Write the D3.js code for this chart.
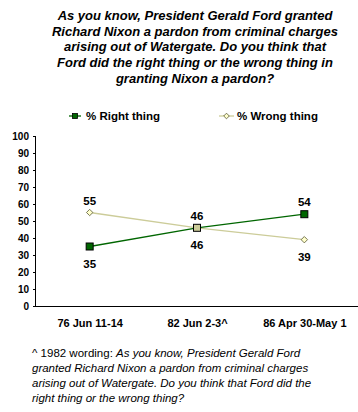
<!DOCTYPE html>
<html><head><meta charset="utf-8">
<script src="https://cdn.jsdelivr.net/npm/d3@7"></script>
<style>
html,body{margin:0;padding:0;background:#fff;}
svg{display:block;font-family:"Liberation Sans",Arial,sans-serif;}
</style></head>
<body>
<svg id="c" width="358" height="412"></svg>
<script>
const categories = ["76 Jun 11-14", "82 Jun 2-3^", "86 Apr 30-May 1"];
const rightThing = [35, 46, 54];
const wrongThing = [55, 46, 39];
const yTicks = [0,10,20,30,40,50,60,70,80,90,100];
const titleLines = [
  "As you know, President Gerald Ford granted",
  "Richard Nixon a pardon from criminal charges",
  "arising out of Watergate. Do you think that",
  "Ford did the right thing or the wrong thing in",
  "granting Nixon a pardon?"
];
const seriesNames = ["% Right thing", "% Wrong thing"];

const svg = d3.select("#c");
const x = d3.scalePoint().domain(categories).range([36, 358]).padding(0.5);
const y = d3.scaleLinear().domain([0, 100]).range([306, 136]);

// title
svg.append("g").selectAll("text").data(titleLines).join("text")
  .attr("x", 195).attr("y", (d,i) => 20 + i*15.7)
  .attr("text-anchor", "middle")
  .attr("font-size", 13).attr("font-weight", "bold").attr("font-style", "italic")
  .attr("fill", "#000").text(d => d);

// legend
const lg = svg.append("g");
lg.append("line").attr("x1", 69).attr("x2", 81).attr("y1", 116).attr("y2", 116).attr("stroke", "#006600").attr("stroke-width", 1.3);
lg.append("rect").attr("x", 72.5).attr("y", 113.5).attr("width", 5).attr("height", 5).attr("fill", "#006600").attr("stroke", "#000").attr("stroke-width", 0.8);
lg.append("text").attr("x", 86).attr("y", 120).attr("font-size", 11.5).attr("font-weight", "bold").text(seriesNames[0]);
lg.append("line").attr("x1", 219).attr("x2", 234).attr("y1", 116).attr("y2", 116).attr("stroke", "#cccc99").attr("stroke-width", 1.3);
lg.append("path").attr("d", d3.symbol(d3.symbolDiamond2, 20)()).attr("transform", "translate(226.5,116)").attr("fill", "#ffffcc").attr("stroke", "#555533").attr("stroke-width", 0.8);
lg.append("text").attr("x", 237).attr("y", 120).attr("font-size", 11.5).attr("font-weight", "bold").text(seriesNames[1]);

// y axis
const yAxis = svg.append("g").attr("transform", "translate(36,0)")
  .call(d3.axisLeft(y).tickValues(yTicks).tickSize(3).tickPadding(4));
yAxis.select(".domain").attr("stroke", "#000").attr("d", "M-0.5,136V306.5");
yAxis.selectAll(".tick line").attr("stroke", "#000");
yAxis.selectAll(".tick text").attr("font-size", 10).attr("font-weight", "bold").attr("fill", "#000")
  .attr("font-family", "'Liberation Sans',Arial,sans-serif");

// x axis
const xAxis = svg.append("g").attr("transform", "translate(0,306)")
  .call(d3.axisBottom(x).tickSize(0).tickPadding(13));
xAxis.select(".domain").attr("stroke", "#000").attr("d", "M35.5,0.5H358");
xAxis.selectAll(".tick text").attr("font-size", 11).attr("font-weight", "bold").attr("fill", "#000")
  .attr("font-family", "'Liberation Sans',Arial,sans-serif");

// lines
const line = d3.line().x((d,i) => x(categories[i])).y(d => y(d));
svg.append("path").datum(wrongThing).attr("d", line).attr("fill", "none").attr("stroke", "#cccc99").attr("stroke-width", 1.3);
svg.append("path").datum(rightThing).attr("d", line).attr("fill", "none").attr("stroke", "#006600").attr("stroke-width", 1.3);

// markers
svg.append("g").selectAll("path").data(wrongThing).join("path")
  .attr("d", d3.symbol(d3.symbolDiamond2, 26)())
  .attr("transform", (d,i) => `translate(${x(categories[i])},${y(d)})`)
  .attr("fill", "#ffffcc").attr("stroke", "#555533").attr("stroke-width", 0.8);
svg.append("g").selectAll("rect").data(rightThing).join("rect")
  .attr("x", (d,i) => x(categories[i]) - 3.5).attr("y", d => y(d) - 3.5)
  .attr("width", 7).attr("height", 7)
  .attr("fill", (d,i) => i === 1 ? "#cccc99" : "#006600").attr("stroke", "#000").attr("stroke-width", 1);

// data labels
const labels = [];
categories.forEach((c,i) => {
  const r = rightThing[i], w = wrongThing[i];
  const rAbove = r >= w;
  labels.push({c, v: r, above: rAbove});
  labels.push({c, v: w, above: !rAbove});
});
svg.append("g").selectAll("text").data(labels).join("text")
  .attr("x", d => x(d.c)).attr("y", d => y(d.v) + (d.above ? -8 : 21))
  .attr("text-anchor", "middle").attr("font-size", 11.5).attr("font-weight", "bold")
  .attr("fill", "#000").text(d => d.v);

// footnote
const fnLines = [
  [["^ 1982 wording: ", false], ["As you know, President Gerald Ford", true]],
  [["granted Richard Nixon a pardon from criminal charges", true]],
  [["arising out of Watergate. Do you think that Ford did the", true]],
  [["right thing or the wrong thing?", true]]
];
fnLines.forEach((parts, i) => {
  const t = svg.append("text").attr("x", 32).attr("y", 357 + i*15).attr("font-size", 11.5).attr("fill", "#000");
  parts.forEach(([s, it]) => t.append("tspan").attr("font-style", it ? "italic" : "normal").text(s));
});
</script>
</body></html>
